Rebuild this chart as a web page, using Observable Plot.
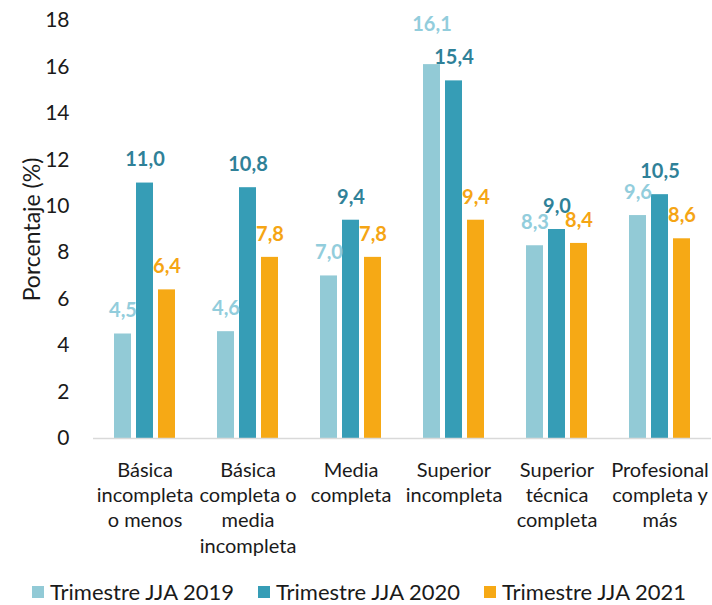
<!DOCTYPE html>
<html>
<head>
<meta charset="utf-8">
<script src="https://cdn.jsdelivr.net/npm/d3@7"></script>
<script src="https://cdn.jsdelivr.net/npm/@observablehq/plot@0.6"></script>
<style>
  body { margin: 0; background: #fff; font-family: Lato, "Open Sans", sans-serif; }
  #legend { display: flex; justify-content: center; gap: 24px; margin-top: 13px; font-size: 22px; color: #1a1a1a; padding-left: 6px; }
  #legend .item { display: flex; align-items: center; gap: 6px; }
  #legend .sw { width: 12px; height: 12px; display: inline-block; }
</style>
</head>
<body>
<div id="chart"></div>
<script>
const categories = [
  "Básica\nincompleta\no menos",
  "Básica\ncompleta o\nmedia\nincompleta",
  "Media\ncompleta",
  "Superior\nincompleta",
  "Superior\ntécnica\ncompleta",
  "Profesional\ncompleta y\nmás"
];
const series = ["Trimestre JJA 2019", "Trimestre JJA 2020", "Trimestre JJA 2021"];
const v2019 = [4.5, 4.6, 7.0, 16.1, 8.3, 9.6];
const v2020 = [11.0, 10.8, 9.4, 15.4, 9.0, 10.5];
const v2021 = [6.4, 7.8, 7.8, 9.4, 8.4, 8.6];
const yTicks = [0, 2, 4, 6, 8, 10, 12, 14, 16, 18];

const barColors = ["#92CAD6", "#369DB6", "#F6A915"];
const labelColors = ["#92CDDC", "#2F8198", "#F5A514"];

const allValues = [v2019, v2020, v2021];
const data = [];
series.forEach((s, si) => {
  categories.forEach((c, ci) => {
    data.push({cat: c, serie: s, value: allValues[si][ci], si});
  });
});

const fmt = v => v.toFixed(1).replace(".", ",");
// the label that the reference lifts higher to avoid its neighbour
const isLifted = d => d.cat === categories[3] && d.si === 0;

const labelOpts = {
  fx: "cat", x: "serie", y: "value",
  text: d => fmt(d.value),
  fill: d => labelColors[d.si],
  fontWeight: "bold",
  fontSize: 20
};

const chart = Plot.plot({
  width: 712,
  height: 565,
  marginLeft: 92,
  marginRight: 0,
  marginTop: 20,
  marginBottom: 127,
  style: {fontFamily: "Lato, 'Open Sans', sans-serif", color: "#1a1a1a", background: "#fff"},
  fx: {domain: categories, padding: 0, axis: null},
  x: {domain: series, paddingInner: 0.22, paddingOuter: 0.85, axis: null},
  y: {domain: [0, 18], axis: null},
  color: {domain: series, range: barColors},
  marks: [
    Plot.barY(data, {fx: "cat", x: "serie", y: "value", fill: "serie"}),
    Plot.ruleY([0], {stroke: "#d9d9d9", strokeWidth: 1.5}),
    Plot.text(data, {...labelOpts, filter: d => !isLifted(d), dy: -23}),
    Plot.text(data, {...labelOpts, filter: d => isLifted(d), dy: -40}),
    Plot.axisY(yTicks, {
      ticks: yTicks,
      tickSize: 0,
      tickPadding: 24,
      fontSize: 21,
      label: "Porcentaje (%)",
      labelAnchor: "center",
      labelArrow: "none",
      labelOffset: 70
    }),
    Plot.axisFx({
      anchor: "bottom",
      tickSize: 0,
      tickPadding: 20,
      fontSize: 20,
      lineHeight: 1.27,
      label: null
    })
  ]
});

chart.querySelectorAll("g[aria-label='y-axis label'] text").forEach(t => t.setAttribute("font-size", 23));

document.getElementById("chart").appendChild(chart);

const legend = document.createElement("div");
legend.id = "legend";
series.forEach((s, i) => {
  const item = document.createElement("div");
  item.className = "item";
  const sw = document.createElement("span");
  sw.className = "sw";
  sw.style.background = barColors[i];
  const lab = document.createElement("span");
  lab.textContent = s;
  item.appendChild(sw);
  item.appendChild(lab);
  legend.appendChild(item);
});
document.body.appendChild(legend);
</script>
</body>
</html>
